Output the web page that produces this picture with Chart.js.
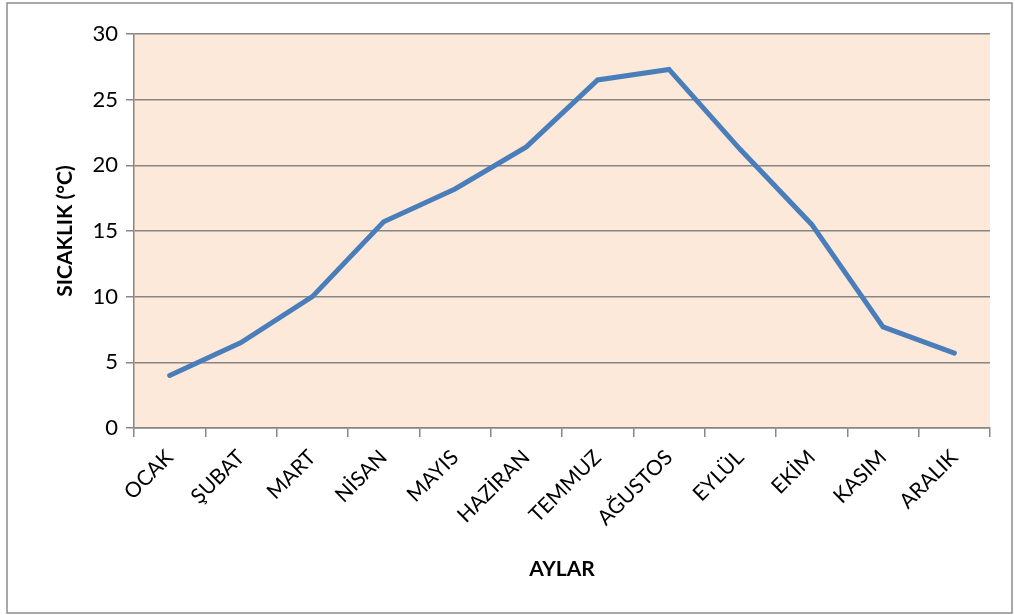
<!DOCTYPE html>
<html>
<head>
<meta charset="utf-8">
<script src="https://cdn.jsdelivr.net/npm/chart.js@4.4.0/dist/chart.umd.min.js"></script>
<style>
  html, body { margin: 0; padding: 0; background: #fff; }
  #wrap { width: 1015px; height: 615px; position: relative; }
</style>
</head>
<body>
<div id="wrap"><canvas id="c" width="1015" height="615"></canvas></div>
<script>
const months = ["OCAK", "ŞUBAT", "MART", "NİSAN", "MAYIS", "HAZİRAN", "TEMMUZ", "AĞUSTOS", "EYLÜL", "EKİM", "KASIM", "ARALIK"];
const temps = [4.0, 6.5, 10.0, 15.7, 18.2, 21.4, 26.5, 27.3, 21.2, 15.5, 7.7, 5.7];
const yTicks = [0, 5, 10, 15, 20, 25, 30];

const gray = "#868686";
const font = "Lato, 'Open Sans', sans-serif";

// peach plot area + thin frame around the whole chart
const backdrop = {
  id: "backdrop",
  beforeDraw(chart) {
    const { ctx, chartArea: a } = chart;
    ctx.save();
    ctx.fillStyle = "#FDE9D9";
    ctx.fillRect(a.left, a.top, a.right - a.left, a.bottom - a.top);
    ctx.restore();
  },
  afterDraw(chart) {
    const ctx = chart.ctx;
    ctx.save();
    ctx.strokeStyle = "#8c8c8c";
    ctx.lineWidth = 1.5;
    ctx.strokeRect(7, 3, 1005, 610);
    ctx.restore();
  }
};

new Chart(document.getElementById("c").getContext("2d"), {
  type: "line",
  data: {
    labels: months,
    datasets: [{
      data: temps,
      borderColor: "#4A7EBB",
      borderWidth: 5,
      pointRadius: 0,
      tension: 0,
      borderCapStyle: "round",
      borderJoinStyle: "miter"
    }]
  },
  options: {
    responsive: false,
    animation: false,
    layout: { padding: { left: 44, right: 25, top: 34, bottom: 10 } },
    plugins: { legend: { display: false }, tooltip: { enabled: false } },
    scales: {
      x: {
        offset: true,
        grid: { offset: true, drawOnChartArea: false, drawTicks: true, tickLength: 9, color: gray, lineWidth: 1.5 },
        border: { color: gray, width: 1.5 },
        ticks: { color: "#000", font: { family: font, size: 21 }, minRotation: 45, maxRotation: 45, padding: 8 },
        title: { display: true, text: "AYLAR", color: "#000", font: { family: font, size: 21, weight: "bold" }, padding: { top: 0, bottom: 23 } },
        afterFit(s) { s.height = 177; }
      },
      y: {
        min: 0,
        max: 30,
        afterBuildTicks(s) { s.ticks = yTicks.map(v => ({ value: v })); },
        grid: { color: gray, lineWidth: 1.5, tickLength: 8 },
        border: { color: gray, width: 1.5 },
        ticks: { color: "#000", font: { family: font, size: 22 }, padding: 8 },
        title: { display: true, text: "SICAKLIK (°C)", color: "#000", font: { family: font, size: 21, weight: "bold" }, padding: { top: 9, bottom: 4 } },
        afterFit(s) { s.width = 90; }
      }
    }
  },
  plugins: [backdrop]
});
</script>
</body>
</html>
